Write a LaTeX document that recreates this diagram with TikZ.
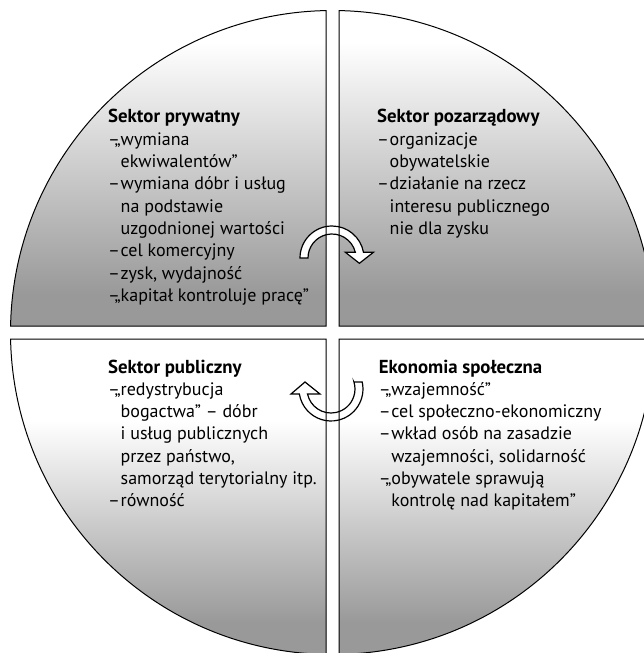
\documentclass[tikz,border=0pt]{standalone}
\usepackage{fontspec}
\setmainfont{PT Sans}
\usepackage{tikz}

\pgfdeclareverticalshading{gorna}{100bp}{color(0bp)=(black!40); color(30bp)=(black!40); color(70bp)=(white); color(100bp)=(white)}
\pgfdeclareverticalshading{dolna}{100bp}{color(0bp)=(black!40); color(30bp)=(black!40); color(62bp)=(white); color(100bp)=(white)}

\newcommand{\pkt}{\makebox[12.5pt][l]{–}}
\newcommand{\wci}{\hspace*{12.5pt}}
\newcommand{\tyt}[1]{{\fontsize{18.8}{22.3}\selectfont\bfseries #1}}
\newcommand{\kat}{1.157}

% cwiartki kola
\newcommand{\cwlg}{(-6.5,6.5) -- ({180-\kat}:322) arc[start angle=180-\kat, end angle=90+\kat, radius=322] -- cycle}
\newcommand{\cwpg}{(6.5,6.5) -- ({90-\kat}:322) arc[start angle=90-\kat, end angle=\kat, radius=322] -- cycle}
\newcommand{\cwld}{(-6.5,-6.5) -- ({180+\kat}:322) arc[start angle=180+\kat, end angle=270-\kat, radius=322] -- cycle}
\newcommand{\cwpd}{(6.5,-6.5) -- ({-\kat}:322) arc[start angle=-\kat, end angle=-90+\kat, radius=322] -- cycle}

\tikzset{
  krawedz/.style={draw=black, line width=1pt},
  strzalka/.style={draw=black, fill=white, line width=1.2pt, line join=miter},
  opis/.style={anchor=base west, inner sep=0pt, font=\fontsize{18}{22.3}\selectfont}
}

\begin{document}
\begin{tikzpicture}[x=1pt, y=1pt]
	\useasboundingbox (-332.5,-320.5) rectangle (311.5,332.5);
	\clip (-332.5,-320.5) rectangle (311.5,332.5);

    \shade[shading=gorna] \cwlg;
    \shade[shading=gorna] \cwpg;
    \shade[shading=dolna] \cwld;
    \shade[shading=dolna] \cwpd;

    % strzalki
    \begin{scope}[shift={(-0.5,74.5)}]
    \draw[strzalka] (-24,0) -- (-32,0) arc[start angle=180, end angle=10.3, radius=32]
      -- (41.4,5.7) -- (27.4,-5.3) -- (13.4,5.7) -- (13.7:24)
      arc[start angle=13.7, end angle=180, radius=24] -- cycle;
    \end{scope}
    \begin{scope}[shift={(-1.5,-56.5)}]
    \draw[strzalka] (22.96,7) -- (31.2,7) arc[start angle=12.6, end angle=-171, radius=32]
      -- (-40,-5) -- (-26,7) -- (-11,-5) -- (-168:24)
      arc[start angle=-168, end angle=17, radius=24] -- cycle;
    \end{scope}

    \draw[krawedz] \cwlg;
    \draw[krawedz] \cwpg;
    \draw[krawedz] \cwld;
    \draw[krawedz] \cwpd;

    \node[opis] (prywatny) at (-224.5,209.5) {\begin{tabular}[t]{@{}l@{}}
      \tyt{Sektor prywatny}\\
      \pkt\llap{„}wymiana\\
      \wci ekwiwalentów”\\
      \pkt wymiana dóbr i usług\\
      \wci na podstawie\\
      \wci uzgodnionej wartości\\
      \pkt cel komercyjny\\
      \pkt zysk, wydajność\\
      \pkt\llap{„}kapitał kontroluje pracę”
    \end{tabular}};
    \node[opis] (pozarzadowy) at (44.5,209.5) {\begin{tabular}[t]{@{}l@{}}
      \tyt{Sektor pozarządowy}\\
      \pkt organizacje\\
      \wci obywatelskie\\
      \pkt działanie na rzecz\\
      \wci interesu publicznego\\
      \wci nie dla zysku
    \end{tabular}};
    \node[opis] (publiczny) at (-224.5,-40.5) {\begin{tabular}[t]{@{}l@{}}
      \tyt{Sektor publiczny}\\
      \pkt\llap{„}redystrybucja\\
      \wci bogactwa” – dóbr\\
      \wci i usług publicznych\\
      \wci przez państwo,\\
      \wci samorząd terytorialny itp.\\
      \pkt równość
    \end{tabular}};
    \node[opis] (ekonomia) at (46.2,-40.5) {\begin{tabular}[t]{@{}l@{}}
      \tyt{Ekonomia społeczna}\\
      \pkt\llap{„}wzajemność”\\
      \pkt cel społeczno-ekonomiczny\\
      \pkt wkład osób na zasadzie\\
      \wci wzajemności, solidarność\\
      \pkt\llap{„}obywatele sprawują\\
      \wci kontrolę nad kapitałem”
    \end{tabular}};

\end{tikzpicture}
\end{document}
